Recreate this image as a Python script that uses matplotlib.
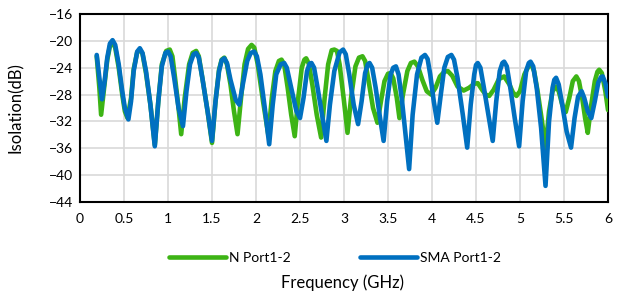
import matplotlib
matplotlib.use("Agg")
import matplotlib.pyplot as plt

# N Port1-2 (green)
n_freq = [0.19, 0.22, 0.24, 0.27, 0.31, 0.34, 0.37, 0.40, 0.44, 0.48, 0.51, 0.54, 0.58, 0.61, 0.65, 0.68,
          0.71, 0.75, 0.80, 0.85, 0.89, 0.93, 0.98, 1.02, 1.05, 1.08, 1.12, 1.15, 1.19, 1.24, 1.28, 1.32,
          1.35, 1.39, 1.45, 1.50, 1.54, 1.58, 1.61, 1.64, 1.67, 1.71, 1.75, 1.79, 1.83, 1.87, 1.91, 1.95,
          1.98, 2.02, 2.08, 2.14, 2.18, 2.22, 2.26, 2.29, 2.32, 2.36, 2.40, 2.44, 2.48, 2.52, 2.55, 2.57,
          2.60, 2.64, 2.69, 2.74, 2.78, 2.82, 2.86, 2.89, 2.92, 2.95, 3.00, 3.04, 3.08, 3.13, 3.17, 3.21,
          3.24, 3.28, 3.33, 3.38, 3.42, 3.46, 3.50, 3.53, 3.56, 3.60, 3.63, 3.67, 3.72, 3.76, 3.80, 3.84,
          3.89, 3.94, 3.99, 4.04, 4.09, 4.14, 4.18, 4.23, 4.29, 4.36, 4.42, 4.48, 4.52, 4.57, 4.61, 4.65,
          4.70, 4.76, 4.82, 4.88, 4.92, 4.96, 5.00, 5.05, 5.10, 5.13, 5.16, 5.20, 5.25, 5.29, 5.33, 5.37,
          5.41, 5.44, 5.48, 5.52, 5.56, 5.60, 5.64, 5.67, 5.71, 5.74, 5.77, 5.81, 5.85, 5.88, 5.90, 5.93,
          5.97, 6.00]
n_iso = [-22.3, -27.0, -31.0, -27.5, -22.8, -20.8, -20.3, -21.0, -24.0, -28.0, -30.5, -31.5, -28.5, -24.2, -21.7, -21.3,
         -21.9, -24.8, -29.5, -35.5, -29.0, -23.5, -21.5, -21.3, -22.3, -25.5, -30.0, -33.9, -28.5, -23.5, -21.8, -21.5,
         -22.3, -25.5, -30.5, -35.2, -29.0, -24.3, -22.8, -22.5, -23.5, -26.5, -30.5, -33.9, -28.5, -23.5, -21.2, -20.6,
         -21.0, -23.5, -29.0, -34.0, -28.5, -24.5, -23.0, -22.8, -23.5, -27.0, -31.0, -34.2, -28.5, -24.0, -22.8, -22.6,
         -23.4, -26.5, -31.0, -34.4, -28.5, -23.5, -21.4, -21.3, -21.5, -23.5, -29.0, -33.7, -28.5, -23.8, -22.5, -22.3,
         -23.0, -26.0, -30.0, -32.2, -29.0, -26.0, -24.9, -24.8, -25.6, -28.5, -31.5, -28.0, -24.5, -23.3, -23.1, -23.8,
         -25.8, -27.5, -28.0, -27.0, -25.3, -24.6, -24.5, -25.2, -26.8, -27.4, -27.0, -26.4, -26.3, -27.3, -28.0, -28.2,
         -27.3, -25.7, -25.3, -26.5, -27.7, -28.2, -27.5, -25.0, -23.7, -23.6, -24.5, -27.5, -32.0, -36.1, -30.5, -27.5,
         -26.8, -27.5, -29.5, -30.6, -28.5, -26.0, -25.3, -26.0, -28.8, -31.5, -33.7, -29.5, -26.0, -24.6, -24.3, -24.8,
         -27.5, -30.3]

# SMA Port1-2 (blue)
sma_freq = [0.19, 0.22, 0.25, 0.28, 0.31, 0.34, 0.37, 0.40, 0.44, 0.48, 0.51, 0.55, 0.58, 0.61, 0.65, 0.68,
            0.71, 0.75, 0.80, 0.85, 0.89, 0.93, 0.97, 1.00, 1.03, 1.07, 1.12, 1.17, 1.21, 1.25, 1.29, 1.32,
            1.35, 1.39, 1.45, 1.50, 1.54, 1.58, 1.61, 1.64, 1.67, 1.71, 1.77, 1.81, 1.85, 1.90, 1.94, 1.98,
            2.01, 2.05, 2.10, 2.15, 2.19, 2.23, 2.28, 2.32, 2.35, 2.40, 2.46, 2.50, 2.54, 2.58, 2.61, 2.63,
            2.66, 2.70, 2.75, 2.80, 2.84, 2.89, 2.95, 2.99, 3.02, 3.06, 3.11, 3.16, 3.20, 3.24, 3.27, 3.29,
            3.32, 3.36, 3.41, 3.45, 3.49, 3.53, 3.56, 3.59, 3.62, 3.66, 3.70, 3.74, 3.78, 3.83, 3.88, 3.92,
            3.95, 3.98, 4.02, 4.06, 4.10, 4.14, 4.18, 4.22, 4.25, 4.29, 4.35, 4.40, 4.44, 4.48, 4.50, 4.52,
            4.55, 4.59, 4.64, 4.69, 4.73, 4.77, 4.80, 4.82, 4.85, 4.89, 4.94, 4.99, 5.03, 5.07, 5.10, 5.12,
            5.15, 5.19, 5.24, 5.29, 5.33, 5.37, 5.39, 5.41, 5.44, 5.48, 5.53, 5.58, 5.62, 5.66, 5.70, 5.73,
            5.77, 5.81, 5.85, 5.89, 5.92, 5.94, 5.97, 6.00]
sma_iso = [-22.1, -25.5, -28.7, -26.0, -22.5, -20.4, -19.9, -20.6, -23.5, -27.5, -30.0, -31.7, -29.0, -24.5, -21.6, -21.1,
           -21.8, -24.5, -29.5, -35.7, -29.0, -23.8, -21.8, -21.6, -22.3, -25.5, -30.0, -32.7, -27.5, -23.5, -22.0, -21.8,
           -22.5, -25.5, -30.5, -34.9, -29.0, -24.5, -22.9, -22.6, -23.3, -25.8, -28.8, -29.5, -26.5, -23.0, -21.8, -21.6,
           -22.3, -25.0, -30.0, -35.4, -29.5, -25.0, -23.5, -23.3, -24.0, -27.0, -30.5, -31.5, -28.5, -24.5, -23.4, -23.3,
           -24.0, -27.0, -31.0, -34.9, -29.5, -24.5, -21.7, -21.3, -22.0, -25.0, -29.5, -32.4, -29.0, -24.8, -23.5, -23.3,
           -24.0, -27.0, -31.5, -34.9, -29.0, -25.0, -24.0, -23.8, -25.0, -29.0, -34.0, -39.1, -31.0, -25.0, -22.5, -22.1,
           -22.7, -25.0, -29.0, -32.2, -28.0, -24.0, -22.4, -22.1, -22.8, -25.5, -31.0, -35.9, -29.5, -25.0, -23.6, -23.3,
           -24.0, -27.0, -31.0, -34.9, -29.0, -24.5, -23.3, -23.1, -23.8, -27.0, -31.5, -35.7, -29.0, -24.5, -23.3, -23.1,
           -23.8, -27.0, -33.0, -41.6, -32.0, -27.0, -25.8, -25.5, -26.5, -29.5, -33.5, -35.9, -31.5, -28.3, -27.5, -28.5,
           -30.5, -31.5, -29.0, -26.2, -25.4, -25.3, -26.3, -28.3]

series_labels = ["N Port1-2", "SMA Port1-2"]
x_ticks = [0, 0.5, 1, 1.5, 2, 2.5, 3, 3.5, 4, 4.5, 5, 5.5, 6]
x_tick_labels = ["0", "0.5", "1", "1.5", "2", "2.5", "3", "3.5", "4", "4.5", "5", "5.5", "6"]
y_ticks = [-44, -40, -36, -32, -28, -24, -20, -16]

plt.rcParams['font.family'] = ['Lato', 'DejaVu Sans']

fig = plt.figure(figsize=(6.28, 2.97), dpi=100)
ax = fig.add_axes([80/628, 1 - 202/297, 528/628, 188/297])

green = '#3DB415'
blue = '#0070C0'
ax.plot(n_freq, n_iso, color=green, lw=3.3, solid_joinstyle='round', solid_capstyle='round',
        label=series_labels[0], zorder=3)
ax.plot(sma_freq, sma_iso, color=blue, lw=3.3, solid_joinstyle='round', solid_capstyle='round',
        label=series_labels[1], zorder=4)

ax.set_xlim(0, 6)
ax.set_ylim(-44, -16)
ax.set_xticks(x_ticks)
ax.set_xticklabels(x_tick_labels)
ax.set_yticks(y_ticks)
ax.grid(True, color='#D9D9D9', lw=1.2, zorder=0)
ax.set_axisbelow(True)
ax.tick_params(length=0, labelsize=10, colors='#000000', pad=8)
ax.tick_params(axis='y', pad=5)
for s in ax.spines.values():
    s.set_color('black')
    s.set_linewidth(1.5)

fig.legend(loc='center', bbox_to_anchor=(0.533, 1 - 258/297), ncol=2, frameon=False,
           fontsize=10, handlelength=4.1, columnspacing=5.0, handletextpad=0.2)
fig.text(0.545, 1 - 283/297, "Frequency (GHz)", ha='center', va='center', fontsize=12)
fig.text(0.026, 1 - 108/297, "Isolation(dB)", ha='center', va='center', rotation=90, fontsize=12)

fig.savefig("out.png", dpi=100)
